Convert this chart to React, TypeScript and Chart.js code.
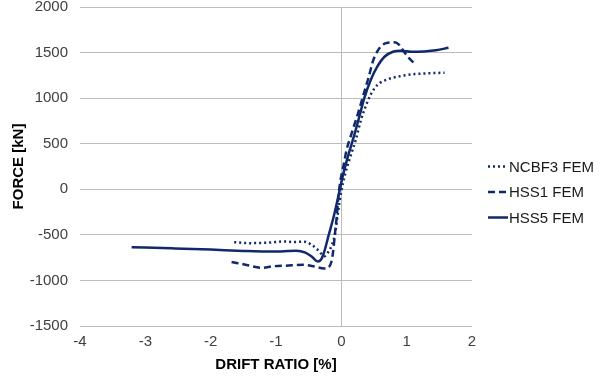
import React, { useEffect, useRef } from "react";
import { Chart, registerables } from "chart.js";

Chart.register(...registerables);

// Series data (drift ratio [%], force [kN])
const ncbf3X = [-1.64, -1.41, -1.1, -0.9, -0.72, -0.57, -0.45, -0.36, -0.3, -0.26, -0.21, -0.15, -0.1, -0.05, 0.0, 0.06, 0.13, 0.22, 0.3, 0.37, 0.45, 0.55, 0.71, 0.91, 1.12, 1.3, 1.58];
const ncbf3Y = [-580, -591, -585, -573, -578, -575, -612, -665, -712, -735, -700, -620, -500, -250, -20, 170, 340, 540, 760, 906, 1040, 1144, 1207, 1242, 1264, 1272, 1279];

const hss1X = [-1.68, -1.45, -1.21, -1.05, -0.85, -0.57, -0.41, -0.26, -0.2, -0.15, -0.12, -0.1, -0.07, -0.05, -0.02, 0.04, 0.08, 0.16, 0.25, 0.33, 0.42, 0.49, 0.6, 0.71, 0.81, 0.89, 0.96, 1.04, 1.12];
const hss1Y = [-797, -830, -862, -845, -838, -829, -847, -870, -860, -790, -650, -500, -300, -120, 66, 285, 431, 620, 820, 1016, 1235, 1418, 1564, 1608, 1612, 1582, 1509, 1436, 1381];

const hss5X = [-3.21, -2.6, -2.0, -1.5, -1.05, -0.69, -0.55, -0.45, -0.36, -0.31, -0.26, -0.2, -0.11, -0.03, 0.02, 0.1, 0.2, 0.28, 0.35, 0.45, 0.55, 0.66, 0.79, 0.91, 1.07, 1.27, 1.45, 1.64];
const hss5Y = [-635, -648, -662, -676, -683, -675, -695, -740, -792, -770, -680, -520, -280, -25, 139, 358, 600, 810, 998, 1199, 1345, 1454, 1509, 1520, 1509, 1513, 1525, 1553];

const seriesLabels = ["NCBF3 FEM", "HSS1 FEM", "HSS5 FEM"];
const xMin = -4;
const xMax = 2;
const xStep = 1;
const yMin = -1500;
const yMax = 2000;
const yStep = 500;
const xTitle = "DRIFT RATIO [%]";
const yTitle = "FORCE [kN]";

const FONT = "'Liberation Sans', Arial, Helvetica, sans-serif";
const NAVY = "#10296a";
const GRID = "#bcbcbc";

const toPoints = (xs: number[], ys: number[]) => xs.map((x, i) => ({ x, y: ys[i] }));

const sideLegend = {
  id: "sideLegend",
  afterDraw(chart: any) {
    const ctx = chart.ctx;
    ctx.save();
    ctx.font = `15px ${FONT}`;
    ctx.textBaseline = "middle";
    ctx.textAlign = "left";
    const n = chart.data.datasets.length;
    const x0 = 488;
    const gap = 25.5;
    const cy = 192;
    chart.data.datasets.forEach((ds: any, i: number) => {
      const y = cy + (i - (n - 1) / 2) * gap;
      ctx.strokeStyle = ds.borderColor;
      ctx.lineWidth = ds.borderWidth;
      ctx.setLineDash(ds.borderDash || []);
      ctx.beginPath();
      ctx.moveTo(x0, y);
      ctx.lineTo(x0 + 20, y);
      ctx.stroke();
      ctx.setLineDash([]);
      ctx.fillStyle = "#1a1a1a";
      ctx.fillText(ds.label, x0 + 21, y + 1);
    });
    ctx.restore();
  },
};

export default function App() {
  const ref = useRef<HTMLCanvasElement | null>(null);

  useEffect(() => {
    if (!ref.current) return;
    const common = {
      showLine: true,
      pointRadius: 0,
      pointHoverRadius: 0,
      borderColor: NAVY,
      backgroundColor: NAVY,
      fill: false,
      cubicInterpolationMode: "monotone" as const,
      borderCapStyle: "butt" as const,
    };
    const chart = new Chart(ref.current, {
      type: "scatter",
      data: {
        datasets: [
          { ...common, label: seriesLabels[0], data: toPoints(ncbf3X, ncbf3Y), borderWidth: 2.5, borderDash: [2, 3] },
          { ...common, label: seriesLabels[1], data: toPoints(hss1X, hss1Y), borderWidth: 2.5, borderDash: [7, 4] },
          { ...common, label: seriesLabels[2], data: toPoints(hss5X, hss5Y), borderWidth: 2.5 },
        ],
      },
      options: {
        animation: false,
        responsive: true,
        maintainAspectRatio: false,
        layout: { padding: { left: 4, right: 128, top: 7, bottom: 0 } },
        plugins: {
          legend: { display: false },
          tooltip: { enabled: false },
        },
        scales: {
          x: {
            type: "linear",
            min: xMin,
            max: xMax,
            ticks: {
              stepSize: xStep,
              color: "#404040",
              font: { family: FONT, size: 15 },
              padding: 7,
              callback: (v: any) => String(v),
            },
            grid: {
              drawTicks: false,
              color: (c: any) => (c.tick && c.tick.value === 0 ? GRID : "rgba(0,0,0,0)"),
              lineWidth: 1,
            },
            border: { display: false },
            title: {
              display: true,
              text: xTitle,
              color: "#000",
              font: { family: FONT, size: 15, weight: "bold" },
              padding: { top: 0, bottom: 5 },
            },
            afterFit: (s: any) => {
              s.height = 53;
              s.paddingLeft = 0;
              s.paddingRight = 0;
            },
          },
          y: {
            type: "linear",
            min: yMin,
            max: yMax,
            ticks: {
              stepSize: yStep,
              color: "#404040",
              font: { family: FONT, size: 15 },
              padding: 12,
              callback: (v: any) => String(v),
            },
            grid: { drawTicks: false, color: GRID, lineWidth: 1 },
            border: { display: false },
            title: {
              display: true,
              text: yTitle,
              color: "#000",
              font: { family: FONT, size: 15, weight: "bold" },
              padding: { top: 6, bottom: 0 },
            },
            afterFit: (s: any) => {
              s.width = 76;
              s.paddingTop = 0;
              s.paddingBottom = 0;
            },
          },
        },
      },
      plugins: [sideLegend],
    });
    return () => chart.destroy();
  }, []);

  return (
    <div style={{ position: "absolute", left: 0, top: 0, width: 600, height: 379, background: "#fff" }}>
      <canvas ref={ref} />
    </div>
  );
}
